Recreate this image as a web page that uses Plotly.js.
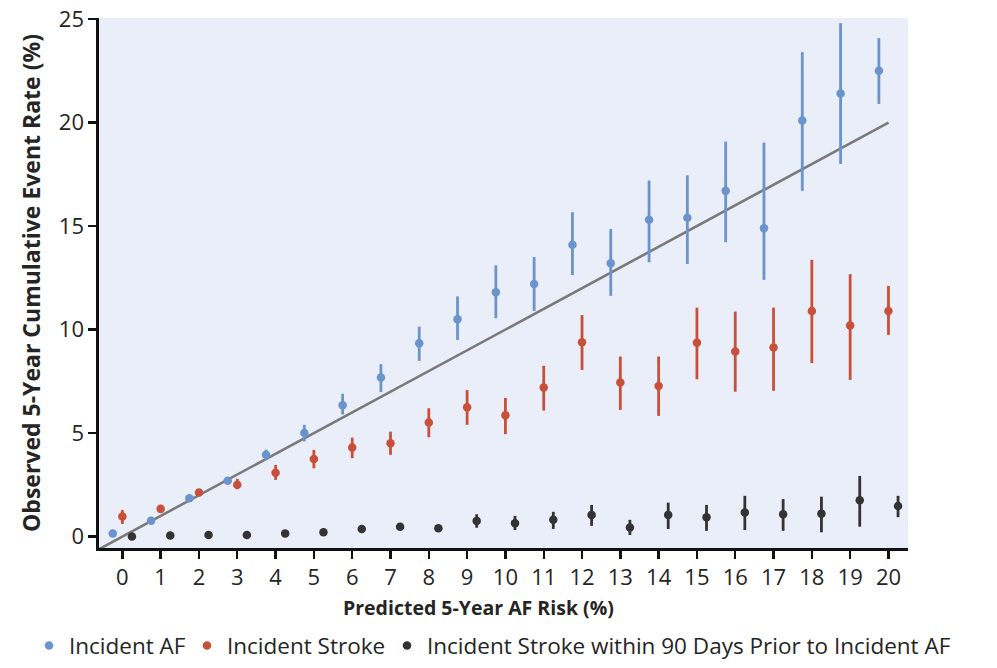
<!DOCTYPE html>
<html>
<head>
<meta charset="utf-8">
<script src="https://cdn.plot.ly/plotly-3.0.1.min.js"></script>
<style>html,body{margin:0;padding:0;background:#fff;}#chart{width:997px;height:668px;}</style>
</head>
<body>
<div id="chart"></div>
<script>
// Predicted 5-year AF risk categories (%)
const riskCategories = [0,1,2,3,4,5,6,7,8,9,10,11,12,13,14,15,16,17,18,19,20];

// Incident AF: observed rate and 95% CI
const afRate  = [0.15,0.77,1.85,2.7,3.95,5.0,6.35,7.68,9.34,10.5,11.8,12.2,14.1,13.2,15.3,15.4,16.7,14.9,20.1,21.4,22.5];
const afUpper = [0.25,0.87,1.95,2.85,4.2,5.4,6.9,8.33,10.14,11.6,13.1,13.5,15.67,14.86,17.2,17.45,19.08,19.03,23.4,24.8,24.08];
const afLower = [0.05,0.67,1.75,2.55,3.7,4.6,5.9,6.98,8.49,9.5,10.55,10.9,12.63,11.63,13.25,13.17,14.22,12.4,16.7,18.0,20.9];

// Incident stroke
const strokeRate  = [0.97,1.34,2.13,2.5,3.09,3.75,4.3,4.51,5.51,6.25,5.86,7.2,9.39,7.44,7.28,9.37,8.94,9.13,10.9,10.2,10.9];
const strokeUpper = [1.29,1.45,2.22,2.79,3.46,4.19,4.78,5.07,6.2,7.08,6.7,8.25,10.7,8.7,8.7,11.06,10.87,11.06,13.37,12.68,12.11];
const strokeLower = [0.61,1.23,2.04,2.29,2.74,3.3,3.79,3.95,4.8,5.4,4.95,6.09,8.05,6.12,5.83,7.6,7.0,7.04,8.38,7.57,9.74];

// Incident stroke within 90 days prior to incident AF
const priorRate  = [0.0,0.05,0.08,0.08,0.15,0.21,0.37,0.48,0.4,0.76,0.65,0.81,1.05,0.44,1.05,0.94,1.16,1.08,1.11,1.76,1.48];
const priorUpper = [0.0,0.05,0.08,0.08,0.15,0.21,0.37,0.48,0.4,1.08,1.0,1.2,1.53,0.81,1.64,1.53,1.97,1.81,1.93,2.93,1.97];
const priorLower = [0.0,0.05,0.08,0.08,0.15,0.21,0.37,0.48,0.4,0.43,0.32,0.37,0.52,0.08,0.37,0.28,0.32,0.28,0.21,0.48,0.94];

// Identity (perfect calibration) line
const refLineX = [-0.6, 20];
const refLineY = [-0.6, 20];

const xTickVals = riskCategories;
const xTickText = riskCategories.map(String);
const yTickVals = [0,5,10,15,20,25];

const seriesNames = ['Incident AF', 'Incident Stroke', 'Incident Stroke within 90 Days Prior to Incident AF'];
const xTitle = 'Predicted 5-Year AF Risk (%)';
const yTitle = 'Observed 5-Year Cumulative Event Rate (%)';

const offset = 0.25;
const fontFam = '"Open Sans", "Noto Sans", sans-serif';
const textColor = '#252525';

function errTrace(name, xs, ys, up, lo, color, legendId) {
  return {
    type: 'scatter', mode: 'markers', name: name, showlegend: true, legend: legendId,
    x: xs, y: ys,
    marker: {color: color, size: 8.5},
    error_y: {type: 'data', symmetric: false,
      array: up.map((u,i)=>u-ys[i]), arrayminus: ys.map((v,i)=>v-lo[i]),
      color: color, thickness: 2.8, width: 0}
  };
}

const traces = [
  {type:'scatter', mode:'lines', x: refLineX, y: refLineY, showlegend:false,
   line:{color:'#7a7a7a', width:2.6}, hoverinfo:'skip'},
  errTrace(seriesNames[0], riskCategories.map(v=>v-offset), afRate, afUpper, afLower, '#6b93cc', 'legend'),
  errTrace(seriesNames[1], riskCategories, strokeRate, strokeUpper, strokeLower, '#c8503a', 'legend2'),
  errTrace(seriesNames[2], riskCategories.map(v=>v+offset), priorRate, priorUpper, priorLower, '#333333', 'legend3')
];

function legendAt(leftPx) {
  return {orientation: 'h', xref: 'container', x: leftPx / 997, xanchor: 'left',
    yref: 'container', y: 0.001, yanchor: 'bottom',
    font: {family: fontFam, size: 22.5, color: textColor}, itemwidth: 30,
    bgcolor: 'rgba(0,0,0,0)', borderwidth: 0};
}

const layout = {
  width: 997, height: 668,
  margin: {l: 99, r: 89, t: 18, b: 120},
  paper_bgcolor: '#ffffff',
  plot_bgcolor: '#e9eef8',
  font: {family: fontFam, color: textColor, size: 22},
  showlegend: true,
  legend: legendAt(29),
  legend2: legendAt(187),
  legend3: legendAt(387),
  xaxis: {
    range: [-0.61, 20.51], tickmode: 'array', tickvals: xTickVals, ticktext: xTickText,
    showgrid: false, zeroline: false, showline: true, linecolor: '#111', linewidth: 2.6,
    ticks: 'outside', ticklen: 8, tickwidth: 2.4, tickcolor: '#111',
    tickfont: {family: fontFam, size: 22, color: textColor}
  },
  yaxis: {
    range: [-0.55, 25.05], tickmode: 'array', tickvals: yTickVals,
    showgrid: false, zeroline: false, showline: true, linecolor: '#111', linewidth: 2.6,
    ticks: 'outside', ticklen: 8, tickwidth: 2.4, tickcolor: '#111',
    tickfont: {family: fontFam, size: 22, color: textColor},
    title: {text: '<b>' + yTitle + '</b>', font: {family: fontFam, size: 23, color: textColor}, standoff: 12}
  },
  annotations: [{
    text: '<b>' + xTitle + '</b>', xref: 'paper', yref: 'paper',
    x: (478 - 99) / 809, y: -(607 - 548) / 530, xanchor: 'center', yanchor: 'middle',
    showarrow: false, font: {family: fontFam, size: 19.5, color: textColor}
  }]
};

Plotly.newPlot('chart', traces, layout, {displayModeBar: false, staticPlot: true});
</script>
</body>
</html>
